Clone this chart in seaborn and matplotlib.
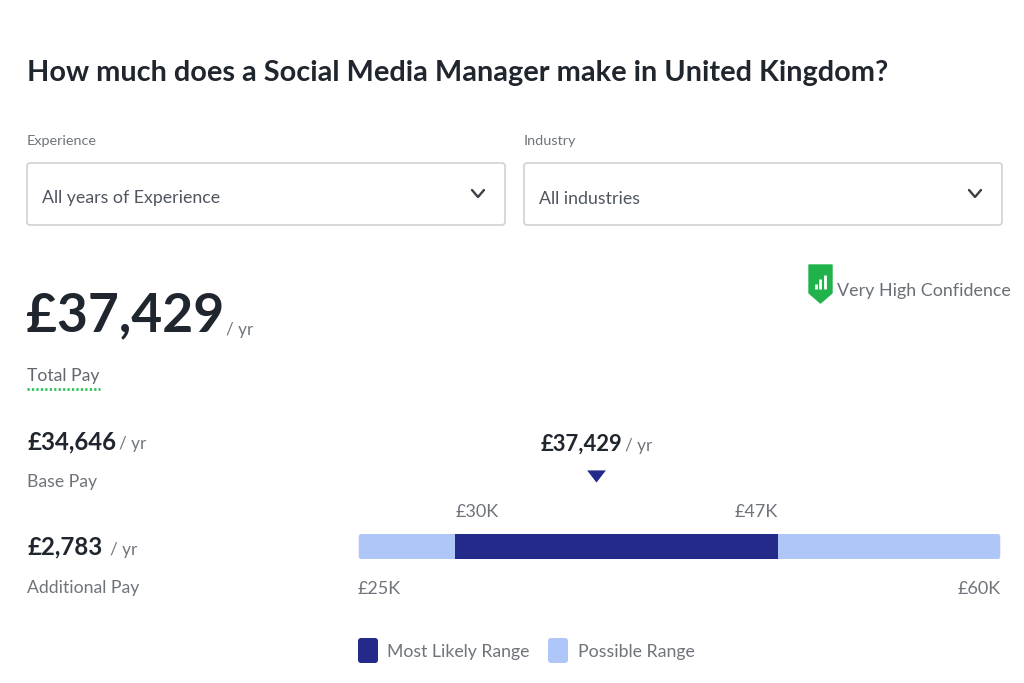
"""Social Media Manager pay card, UK: range bar plus the page text around it."""
import matplotlib
matplotlib.use("Agg")
import matplotlib.pyplot as plt
import seaborn as sns
from matplotlib.patches import FancyBboxPatch, Polygon

RANGE_MIN = 25.0
RANGE_MAX = 60.0
LIKELY_LOW = 30.3
LIKELY_HIGH = 47.85
MARKER_POS = 37.95

RANGE_LABELS = ["£25K", "£60K"]
LIKELY_LABELS = ["£30K", "£47K"]
LEGEND_LABELS = ["Most Likely Range", "Possible Range"]
FILTER_LABELS = ["Experience", "Industry"]
FILTER_VALUES = ["All years of Experience", "All industries"]

DARK = "#232a8a"
LIGHT = "#aec6f8"
INK = "#20262e"
GREY = "#6f747b"
TEXT_MID = "#505660"
GREEN = "#21b24b"

sns.set_theme(style="white")
plt.rcParams["font.family"] = ["Lato", "DejaVu Sans"]

fig = plt.figure(figsize=(10.24, 6.83), dpi=100, facecolor="white")

# page layer, in pixel coordinates
page = fig.add_axes([0, 0, 1, 1])
page.set_xlim(0, 1024)
page.set_ylim(683, 0)
page.axis("off")


def put(x, y, s, size, color=GREY, weight="normal", ha="left"):
    page.text(x, y, s, fontsize=size, color=color, fontweight=weight, ha=ha, va="baseline")


def box(x, y, w, h, face, edge="none", lw=0, radius=3):
    page.add_patch(FancyBboxPatch((x + radius, y + radius), w - 2 * radius, h - 2 * radius,
                                  boxstyle=f"round,pad={radius}", fc=face, ec=edge, lw=lw))


put(27, 81, "How much does a Social Media Manager make in United Kingdom?", 20.8, INK, "bold")

# filters
for label, value, x0, x1 in zip(FILTER_LABELS, FILTER_VALUES, [27, 524], [505, 1002]):
    put(x0, 145, label, 10.4)
    box(x0, 163, x1 - x0, 62, "white", "#d3d5d9", 1.3)
    put(x0 + 15, 203.5, value, 12.8, TEXT_MID)
    cx = x1 - 27
    page.plot([cx - 6, cx, cx + 6], [190, 197, 190], color="#3c4148", lw=1.7)

# confidence badge
page.add_patch(Polygon([(809, 265), (832, 265), (832, 293), (820.5, 303), (809, 293)],
                       closed=True, fc=GREEN, ec=GREEN, lw=1, joinstyle="round"))
for bx, top in zip([815.5, 820, 824.5], [284, 279, 275]):
    page.plot([bx, bx], [top, 289], color="white", lw=2, solid_capstyle="butt")
put(837, 296, "Very High Confidence", 12.9, "#6a7078")

# pay figures
put(26, 331, "£37,429", 38.4, INK, "bold")
put(226, 335, "/ yr", 12.3)
put(27, 381.5, "Total Pay", 12.7, "#62676f")
page.plot([27, 100], [389, 389], color="#2fc45a", lw=2, ls=(0, (0.8, 0.8)))
put(27, 449, "£34,646", 17.3, INK, "bold")
put(119, 449, "/ yr", 12.3)
put(27, 487, "Base Pay", 12.7)
put(27, 554.5, "£2,783", 17.3, INK, "bold")
put(110, 554.5, "/ yr", 12.3)
put(27, 593, "Additional Pay", 12.7)

# range bar, three stacked segments
ax = fig.add_axes([358 / 1024, 1 - 559 / 683, 643 / 1024, 25 / 683])
segments = [(RANGE_MIN, LIKELY_LOW, LIGHT), (LIKELY_LOW, LIKELY_HIGH, DARK), (LIKELY_HIGH, RANGE_MAX, LIGHT)]
for start, end, color in segments:
    sns.barplot(x=[end - start], y=["range"], left=start, color=color, width=1.0,
                saturation=1, linewidth=0, ax=ax)
ax.set_xlim(RANGE_MIN, RANGE_MAX)
ax.set_ylim(0.5, -0.5)
ax.axis("off")
clip = FancyBboxPatch((RANGE_MIN + 0.12, -0.42), RANGE_MAX - RANGE_MIN - 0.24, 0.84,
                      boxstyle="round,pad=0.08,rounding_size=0.12", transform=ax.transData)
for bar in ax.patches:
    bar.set_clip_path(clip)

# labels tied to the bar's scale
trans = ax.get_xaxis_transform()
for val, label, ha in zip([LIKELY_LOW, LIKELY_HIGH], LIKELY_LABELS, ["left", "right"]):
    ax.text(val, 1.56, label, transform=trans, fontsize=13, color=GREY, ha=ha, va="bottom", clip_on=False)
for val, label, ha in zip([RANGE_MIN, RANGE_MAX], RANGE_LABELS, ["left", "right"]):
    ax.text(val, -0.88, label, transform=trans, fontsize=13, color=GREY, ha=ha, va="top", clip_on=False)
ax.plot([MARKER_POS], [3.32], marker=[(-1, 0.65), (1, 0.65), (0, -0.65)], ms=13.5, color=DARK,
        mec="none", transform=trans, clip_on=False)

put(541, 451, "£37,429", 15.8, INK, "bold")
put(625, 451, "/ yr", 12.3)

# legend
box(358, 638, 20, 25, DARK)
put(387, 657, LEGEND_LABELS[0], 12.7)
box(548, 638, 20, 25, LIGHT)
put(578, 657, LEGEND_LABELS[1], 12.8)

fig.savefig("out.png", dpi=100, facecolor="white")
